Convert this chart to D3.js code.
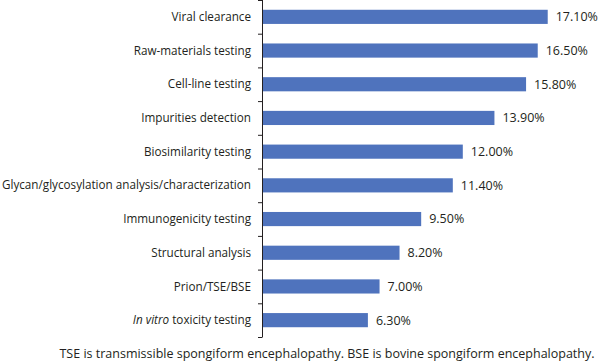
<!DOCTYPE html>
<html>
  <head>
    <meta charset="utf-8" />
    <style>
      body { margin: 0; background: #fff; }
      svg text { font-family: "Open Sans", sans-serif; fill: #231f20; }
    </style>
  </head>
  <body>
    <div id="chart"></div>
    <script src="https://d3js.org/d3.v7.min.js"></script>
    <script>
      const categories = [
        "Viral clearance",
        "Raw-materials testing",
        "Cell-line testing",
        "Impurities detection",
        "Biosimilarity testing",
        "Glycan/glycosylation analysis/characterization",
        "Immunogenicity testing",
        "Structural analysis",
        "Prion/TSE/BSE",
        "In vitro toxicity testing",
      ];
      const values = [17.1, 16.5, 15.8, 13.9, 12.0, 11.4, 9.5, 8.2, 7.0, 6.3];
      const note =
        "TSE is transmissible spongiform encephalopathy. BSE is bovine spongiform encephalopathy.";

      const width = 600, height = 362;
      const marginLeft = 262, marginTop = 0, plotH = 337;

      const svg = d3.select("#chart").append("svg")
        .attr("width", width).attr("height", height);

      const x = d3.scaleLinear().domain([0, 20]).range([marginLeft, marginLeft + 333]);
      const y = d3.scaleBand().domain(categories)
        .range([marginTop, marginTop + plotH])
        .paddingInner(0.58).paddingOuter(0.29);

      // bars
      svg.selectAll("rect.bar").data(values).enter().append("rect")
        .attr("class", "bar")
        .attr("x", x(0) + 1)
        .attr("y", (d, i) => y(categories[i]))
        .attr("width", d => x(d) - x(0))
        .attr("height", y.bandwidth())
        .attr("fill", "#4f73bd");

      // value labels
      svg.selectAll("text.val").data(values).enter().append("text")
        .attr("class", "val")
        .attr("x", d => x(d) + 9)
        .attr("y", (d, i) => y(categories[i]) + y.bandwidth() / 2)
        .attr("dy", "0.35em")
        .style("font-size", "12.5px")
        .text(d => d.toFixed(2) + "%");

      // axis line and boundary ticks
      const g = svg.append("g");
      g.append("line")
        .attr("x1", marginLeft + 0.5).attr("x2", marginLeft + 0.5)
        .attr("y1", marginTop).attr("y2", marginTop + plotH)
        .attr("stroke", "#231f20");
      const step = plotH / categories.length;
      g.selectAll("line.tick").data(d3.range(categories.length + 1)).enter().append("line")
        .attr("class", "tick")
        .attr("x1", marginLeft - 4).attr("x2", marginLeft + 0.5)
        .attr("y1", i => marginTop + i * step + 0.5).attr("y2", i => marginTop + i * step + 0.5)
        .attr("stroke", "#231f20");

      // category labels
      const lab = svg.selectAll("text.cat").data(categories).enter().append("text")
        .attr("class", "cat")
        .attr("x", marginLeft - 11)
        .attr("y", d => y(d) + y.bandwidth() / 2)
        .attr("dy", "0.35em")
        .attr("text-anchor", "end")
        .style("font-size", "11.7px");
      lab.each(function (d) {
        const t = d3.select(this);
        if (d.startsWith("In vitro")) {
          t.append("tspan").style("font-style", "italic").text("In vitro");
          t.append("tspan").text(d.slice(8));
        } else {
          t.text(d);
        }
      });

      // footnote
      svg.append("text")
        .attr("x", 327).attr("y", 358)
        .attr("text-anchor", "middle")
        .style("font-size", "12.5px")
        .text(note);
    </script>
  </body>
</html>
